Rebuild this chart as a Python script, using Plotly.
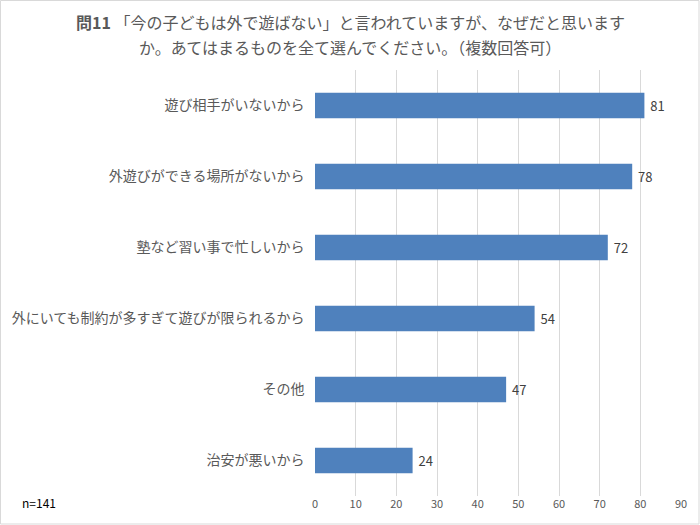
import plotly.graph_objects as go

categories = [
    "遊び相手がいないから",
    "外遊びができる場所がないから",
    "塾など習い事で忙しいから",
    "外にいても制約が多すぎて遊びが限られるから",
    "その他",
    "治安が悪いから",
]
values = [81, 78, 72, 54, 47, 24]
tick_vals = [0, 10, 20, 30, 40, 50, 60, 70, 80, 90]

title_line1 = "<b>問11</b> 「今の子どもは外で遊ばない」と言われていますが、なぜだと思います"
title_line2 = "か。あてはまるものを全て選んでください。（複数回答可）"
note_text = "n=141"

font_family = "Noto Sans CJK JP"

W, H = 700, 525
ML, MR, MT, MB = 315, 19, 70, 29
PW, PH = W - ML - MR, H - MT - MB


def px_x(p):
    return (p - ML) / PW


def px_y(p):
    return (H - MB - p) / PH


fig = go.Figure(
    go.Bar(
        y=categories,
        x=values,
        orientation="h",
        marker=dict(color="#4f81bd", line=dict(width=0)),
        width=0.36,
        text=values,
        texttemplate=" %{x}",
        textposition="outside",
        textfont=dict(size=13, color="#404040", family=font_family),
        cliponaxis=False,
    )
)

fig.update_layout(
    width=W,
    height=H,
    paper_bgcolor="white",
    plot_bgcolor="white",
    margin=dict(l=ML, r=MR, t=MT, b=MB),
    showlegend=False,
    xaxis=dict(
        range=[0, 90],
        tickvals=tick_vals,
        showgrid=True,
        gridcolor="#d9d9d9",
        gridwidth=1,
        zeroline=False,
        showline=False,
        tickfont=dict(size=11, color="#595959", family=font_family),
        ticks="",
    ),
    yaxis=dict(
        categoryorder="array",
        categoryarray=categories[::-1],
        showgrid=False,
        showline=False,
        ticks="",
        ticksuffix="   ",
        tickfont=dict(size=14, color="#595959", family=font_family),
    ),
    annotations=[
        dict(
            text=title_line1,
            xref="paper", yref="paper",
            x=px_x(350), y=px_y(22),
            xanchor="center", yanchor="middle",
            showarrow=False,
            font=dict(size=16, color="#595959", family=font_family),
        ),
        dict(
            text=title_line2,
            xref="paper", yref="paper",
            x=px_x(350), y=px_y(47),
            xanchor="center", yanchor="middle",
            showarrow=False,
            font=dict(size=16, color="#595959", family=font_family),
        ),
        dict(
            text=note_text,
            xref="paper", yref="paper",
            x=px_x(20), y=px_y(503),
            xanchor="left", yanchor="middle",
            showarrow=False,
            font=dict(size=12, color="#000000", family=font_family),
        ),
    ],
    shapes=[
        dict(
            type="rect",
            xref="paper", yref="paper",
            x0=px_x(0.5), x1=px_x(W - 1),
            y0=px_y(H - 1), y1=px_y(0.5),
            line=dict(color="#d9d9d9", width=1),
            layer="below",
        )
    ],
)

fig.write_html(
    "out.html",
    config={"displayModeBar": False},
    post_script="document.body.style.margin='0';document.body.style.overflow='hidden';",
)
